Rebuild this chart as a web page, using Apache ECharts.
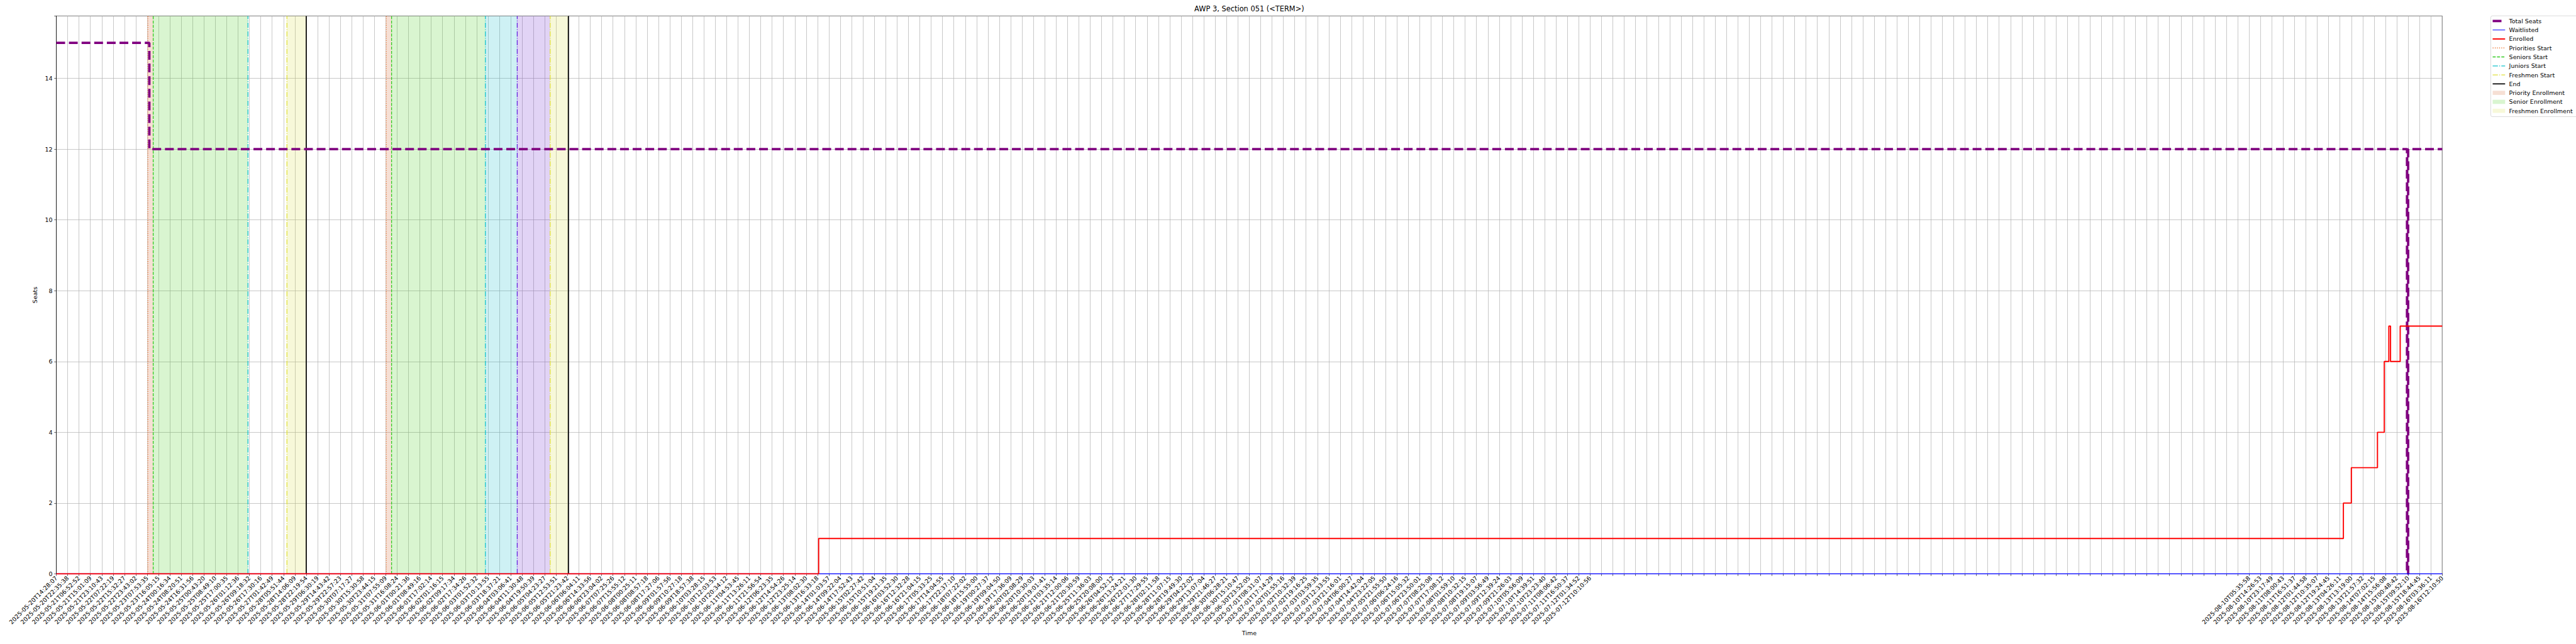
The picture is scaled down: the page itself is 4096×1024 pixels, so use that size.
<!DOCTYPE html>
<html><head><meta charset="utf-8">
<script src="https://cdn.jsdelivr.net/npm/echarts@6/dist/echarts.min.js"></script>
<style>html,body{margin:0;padding:0;background:#fff}#c{width:4096px;height:1024px}</style>
</head><body><div id="c"></div>
<script>
// ---- tick labels (category positions 0..210) ----
const tickLabels = [
'2025-05-20T14:28:07','2025-05-20T22:35:38','2025-05-21T06:52:52','2025-05-21T15:01:09','2025-05-21T23:10:43',
'2025-05-22T07:22:19','2025-05-22T15:32:27','2025-05-22T23:43:02','2025-05-23T07:53:35','2025-05-23T16:05:15',
'2025-05-24T00:16:34','2025-05-24T08:20:51','2025-05-24T16:31:56','2025-05-25T00:43:20','2025-05-25T08:49:10',
'2025-05-25T17:00:35','2025-05-26T01:12:36','2025-05-26T09:18:32','2025-05-26T17:30:16','2025-05-27T01:42:49',
'2025-05-28T05:51:44','2025-05-28T14:06:09','2025-05-28T22:19:54','2025-05-29T06:30:19','2025-05-29T14:43:42',
'2025-05-29T22:57:23','2025-05-30T07:17:27','2025-05-30T15:30:58','2025-05-30T23:44:15','2025-05-31T07:55:09',
'2025-05-31T16:08:24','2025-06-01T00:21:36','2025-06-01T08:49:16','2025-06-01T17:02:14','2025-06-02T01:16:15',
'2025-06-02T09:17:34','2025-06-02T17:34:26','2025-06-03T01:52:32','2025-06-03T10:13:55','2025-06-03T18:37:21',
'2025-06-04T03:06:41','2025-06-04T11:30:48','2025-06-04T19:50:39','2025-06-05T04:23:27','2025-06-05T12:53:51',
'2025-06-05T21:23:42','2025-06-06T06:04:11','2025-06-06T14:33:56','2025-06-06T23:04:02','2025-06-07T07:25:26',
'2025-06-07T15:55:12','2025-06-08T00:25:11','2025-06-08T08:57:18','2025-06-08T17:27:06','2025-06-09T01:57:56',
'2025-06-09T10:27:18','2025-06-09T18:57:38','2025-06-10T03:28:15','2025-06-10T12:03:53','2025-06-10T20:34:12',
'2025-06-11T04:53:45','2025-06-11T13:26:11','2025-06-11T21:56:54','2025-06-12T06:23:35','2025-06-12T14:54:26',
'2025-06-12T23:25:14','2025-06-13T08:02:30','2025-06-13T16:33:18','2025-06-14T01:03:57','2025-06-14T09:22:04',
'2025-06-14T17:52:43','2025-06-15T02:27:42','2025-06-15T10:51:04','2025-06-15T19:21:35','2025-06-16T03:52:30',
'2025-06-16T12:32:28','2025-06-16T21:04:15','2025-06-17T05:33:25','2025-06-17T14:04:55','2025-06-17T22:37:10',
'2025-06-18T07:22:02','2025-06-18T15:55:00','2025-06-19T00:27:37','2025-06-19T09:04:50','2025-06-19T17:36:09',
'2025-06-20T02:08:29','2025-06-20T10:30:03','2025-06-20T19:01:41','2025-06-21T03:35:14','2025-06-21T12:00:06',
'2025-06-21T20:30:59','2025-06-25T11:36:03','2025-06-25T20:08:00','2025-06-26T04:52:12','2025-06-26T13:24:21',
'2025-06-26T22:01:30','2025-06-27T17:29:55','2025-06-28T02:11:58','2025-06-28T11:07:15','2025-06-28T19:49:30',
'2025-06-29T04:22:02','2025-06-29T13:07:04','2025-06-29T21:46:27','2025-06-30T06:28:21','2025-06-30T15:10:47',
'2025-06-30T23:52:05','2025-07-01T08:31:07','2025-07-01T17:14:29','2025-07-02T01:55:16','2025-07-02T10:32:39',
'2025-07-02T19:16:25','2025-07-03T03:59:35','2025-07-03T12:33:55','2025-07-03T21:16:01','2025-07-04T06:00:27',
'2025-07-04T14:42:04','2025-07-04T23:22:05','2025-07-05T21:55:50','2025-07-06T06:24:16','2025-07-06T15:05:32',
'2025-07-06T23:50:01','2025-07-07T08:25:08','2025-07-07T17:08:12','2025-07-08T01:59:10','2025-07-08T10:32:15',
'2025-07-08T19:15:07','2025-07-09T03:56:49','2025-07-09T12:39:24','2025-07-09T21:26:03','2025-07-10T05:56:09',
'2025-07-10T14:39:51','2025-07-10T23:23:40','2025-07-11T08:06:42','2025-07-11T16:50:37','2025-07-12T01:34:52',
'2025-07-12T10:10:56',
'','','','','','','','','','','','','','','','','','','','','','','','','','','','','','','','','','','','','','','','','','','','','','','','','','','','','','','','','',
'2025-08-10T05:35:58','2025-08-10T14:26:53','2025-08-10T23:17:49','2025-08-11T08:00:43','2025-08-11T16:51:37',
'2025-08-12T01:44:58','2025-08-12T10:35:07','2025-08-12T19:24:45','2025-08-13T04:26:11','2025-08-13T13:19:00',
'2025-08-13T21:57:32','2025-08-14T07:02:15','2025-08-14T15:56:08','2025-08-15T00:48:42','2025-08-15T09:52:10',
'2025-08-15T18:44:45','2025-08-16T03:36:11','2025-08-16T12:10:50'
];
const yTicks = [0, 2, 4, 6, 8, 10, 12, 14];
const yMax = 15.76;

// ---- series (x in tick-position units) ----
const totalSeatsX = [0, 8.19, 206.9, 207.0, 210];
const totalSeatsY = [15, 12, 0, 12, 12];
const waitlistedX = [0, 210];
const waitlistedY = [0, 0];
const enrolledX = [0, 67.1, 201.3, 202.0, 204.3, 204.9, 205.3, 205.45, 206.3, 210];
const enrolledY = [0, 1, 2, 3, 4, 6, 7, 6, 7, 7];

// ---- enrollment milestones ----
const prioritiesStart = [8.06, 29.04];
const seniorsStart = [8.53, 29.51];
const juniorsStart = [16.87, 37.77];
const sophomoresStart = [40.57];
const freshmenStart = [20.30, 43.47];
const endTimes = [22.0, 45.08];
const priorityPeriods = [[8.06, 8.53], [29.04, 29.51]];
const seniorPeriods = [[8.53, 16.87], [29.51, 37.77]];
const juniorPeriods = [[37.77, 40.57]];
const sophomorePeriods = [[40.57, 43.47]];
const freshmenPeriods = [[20.30, 22.0], [43.47, 45.08]];

const FONT = 'DejaVu Sans';
const fills = {
  priority: 'rgba(210,95,40,0.2)', senior: 'rgba(65,205,20,0.2)', junior: 'rgba(10,185,200,0.2)',
  sophomore: 'rgba(105,35,205,0.2)', freshmen: 'rgba(215,220,65,0.2)'
};
const LW = 1.3;
const dotted = [LW * 1, LW * 1.65], dashed = [LW * 3.7, LW * 1.6], dashdot = [LW * 6.4, LW * 1.6, LW, LW * 1.6];
const vstyles = {
  priorities: {color: '#ee7733', width: LW, dash: dotted},
  seniors: {color: '#33cc22', width: LW, dash: dashed},
  juniors: {color: '#11c2cc', width: LW, dash: dashdot},
  sophomores: {color: '#6622dd', width: LW, dash: dashdot},
  freshmen: {color: '#e0e03a', width: LW, dash: dashdot},
  end: {color: '#000000', width: 1.7, dash: null}
};
const seatsDash = [14.0, 6.1];

function zip(xs, ys) { return xs.map((x, i) => [x, ys[i]]); }

function rectSeries(name, periods, fill) {
  return {
    name, type: 'custom', z: 1, silent: true,
    data: periods.map(p => [p[0], p[1], 0]),
    encode: {x: [0, 1], y: 2},
    renderItem: (params, api) => {
      const p0 = api.coord([api.value(0), yMax]);
      const p1 = api.coord([api.value(1), 0]);
      return {type: 'rect', shape: {x: p0[0], y: p0[1], width: p1[0] - p0[0], height: p1[1] - p0[1]}, style: {fill}};
    }
  };
}
function vlineSeries(name, xs, st) {
  return {
    name, type: 'custom', z: 3, silent: true,
    data: xs.map(x => [x, 0]),
    encode: {x: 0, y: 1},
    renderItem: (params, api) => {
      const x = api.value(0);
      const p0 = api.coord([x, 0]);
      const p1 = api.coord([x, yMax]);
      return {type: 'line', shape: {x1: p0[0], y1: p0[1], x2: p1[0], y2: p1[1]},
        style: {stroke: st.color, lineWidth: st.width, lineDash: st.dash || null, fill: null}};
    }
  };
}

// ---- legend (drawn as graphic) ----
const legendEntries = [
  {name: 'Total Seats', kind: 'line', color: '#800080', width: 3.8, dash: seatsDash},
  {name: 'Waitlisted', kind: 'line', color: '#0000ff', width: 1.0, dash: null},
  {name: 'Enrolled', kind: 'line', color: '#ff0000', width: 1.9, dash: null},
  {name: 'Priorities Start', kind: 'line', ...vstyles.priorities},
  {name: 'Seniors Start', kind: 'line', ...vstyles.seniors},
  {name: 'Juniors Start', kind: 'line', ...vstyles.juniors},
  {name: 'Freshmen Start', kind: 'line', ...vstyles.freshmen},
  {name: 'End', kind: 'line', ...vstyles.end},
  {name: 'Priority Enrollment', kind: 'patch', color: fills.priority},
  {name: 'Senior Enrollment', kind: 'patch', color: fills.senior},
  {name: 'Freshmen Enrollment', kind: 'patch', color: fills.freshmen}
];
const LEG = {x: 3960.5, y: 25.2, w: 140, h: 160.3, row0: 33.4, rowH: 14.28, hx0: 3963.5, hx1: 3983.3, tx: 3989.6};
const legendGraphics = [{
  type: 'rect', shape: {x: LEG.x, y: LEG.y, width: LEG.w, height: LEG.h, r: 2.5},
  style: {fill: 'rgba(255,255,255,0.8)', stroke: '#cccccc', lineWidth: 0.7}, z: 10
}];
legendEntries.forEach((e, i) => {
  const cy = LEG.row0 + i * LEG.rowH;
  if (e.kind === 'line') {
    legendGraphics.push({type: 'line', z: 11, shape: {x1: LEG.hx0, y1: cy, x2: LEG.hx1, y2: cy},
      style: {stroke: e.color, lineWidth: e.width, lineDash: e.dash || null}});
  } else {
    legendGraphics.push({type: 'rect', z: 11, shape: {x: LEG.hx0, y: cy - 3.3, width: LEG.hx1 - LEG.hx0, height: 6.6},
      style: {fill: e.color}});
  }
  legendGraphics.push({type: 'text', z: 11, x: LEG.tx, y: cy,
    style: {text: e.name, fill: '#000', font: '9.5px "' + FONT + '"', verticalAlign: 'middle', align: 'left'}});
});

const chart = echarts.init(document.getElementById('c'), null, {renderer: 'svg', width: 4096, height: 1024});
chart.setOption({
  animation: false,
  backgroundColor: '#ffffff',
  textStyle: {fontFamily: FONT},
  grid: {left: 89.5, right: 212.7, top: 25.4, bottom: 111.5, show: true, borderColor: '#000', borderWidth: 0.8, backgroundColor: 'transparent'},
  xAxis: {
    type: 'value', min: 0, max: tickLabels.length - 1, interval: 1,
    name: 'Time', nameLocation: 'middle', nameGap: 88,
    nameTextStyle: {fontSize: 9.5, color: '#000', fontFamily: FONT},
    axisLine: {show: true, onZero: false, lineStyle: {color: '#000', width: 0.8}},
    axisTick: {show: true, length: 3.3, lineStyle: {color: '#000', width: 0.6}},
    axisLabel: {rotate: 45, margin: 5, fontSize: 9.5, color: '#000', fontFamily: FONT,
      formatter: v => tickLabels[Math.round(v)] || ''},
    splitLine: {show: true, lineStyle: {color: '#b0b0b0', width: 0.7}}
  },
  yAxis: {
    type: 'value', min: 0, max: yMax, interval: 2,
    name: 'Seats', nameLocation: 'middle', nameGap: 27, nameRotate: 90,
    nameTextStyle: {fontSize: 9.5, color: '#000', fontFamily: FONT},
    axisLine: {show: true, lineStyle: {color: '#000', width: 0.8}},
    axisTick: {show: true, length: 3.3, lineStyle: {color: '#000', width: 0.6}},
    axisLabel: {margin: 6, fontSize: 9.5, color: '#000', fontFamily: FONT,
      formatter: v => (yTicks.indexOf(v) >= 0 ? String(v) : '')},
    splitLine: {show: true, lineStyle: {color: '#b0b0b0', width: 0.7}}
  },
  series: [
    rectSeries('Priority Enrollment', priorityPeriods, fills.priority),
    rectSeries('Senior Enrollment', seniorPeriods, fills.senior),
    rectSeries('Junior Enrollment', juniorPeriods, fills.junior),
    rectSeries('Sophomore Enrollment', sophomorePeriods, fills.sophomore),
    rectSeries('Freshmen Enrollment', freshmenPeriods, fills.freshmen),
    {name: 'Total Seats', type: 'line', z: 4, step: 'end', symbol: 'none', data: zip(totalSeatsX, totalSeatsY),
      lineStyle: {color: '#800080', width: 3.8, type: seatsDash}},
    {name: 'Waitlisted', type: 'line', z: 5, step: 'end', symbol: 'none', data: zip(waitlistedX, waitlistedY),
      lineStyle: {color: '#0000ff', width: 1.4}},
    {name: 'Enrolled', type: 'line', z: 6, step: 'end', symbol: 'none', data: zip(enrolledX, enrolledY),
      lineStyle: {color: '#ff0000', width: 1.9}},
    vlineSeries('Priorities Start', prioritiesStart, vstyles.priorities),
    vlineSeries('Seniors Start', seniorsStart, vstyles.seniors),
    vlineSeries('Juniors Start', juniorsStart, vstyles.juniors),
    vlineSeries('Sophomores Start', sophomoresStart, vstyles.sophomores),
    vlineSeries('Freshmen Start', freshmenStart, vstyles.freshmen),
    vlineSeries('End', endTimes, vstyles.end)
  ],
  graphic: [
    {type: 'text', x: (89.5 + 3883.3) / 2, y: 19.6, z: 10,
      style: {text: 'AWP 3, Section 051 (<TERM>)', fill: '#000', font: '11.4px "' + FONT + '"', align: 'center', verticalAlign: 'bottom'}},
    ...legendGraphics
  ]
});
</script></body></html>
